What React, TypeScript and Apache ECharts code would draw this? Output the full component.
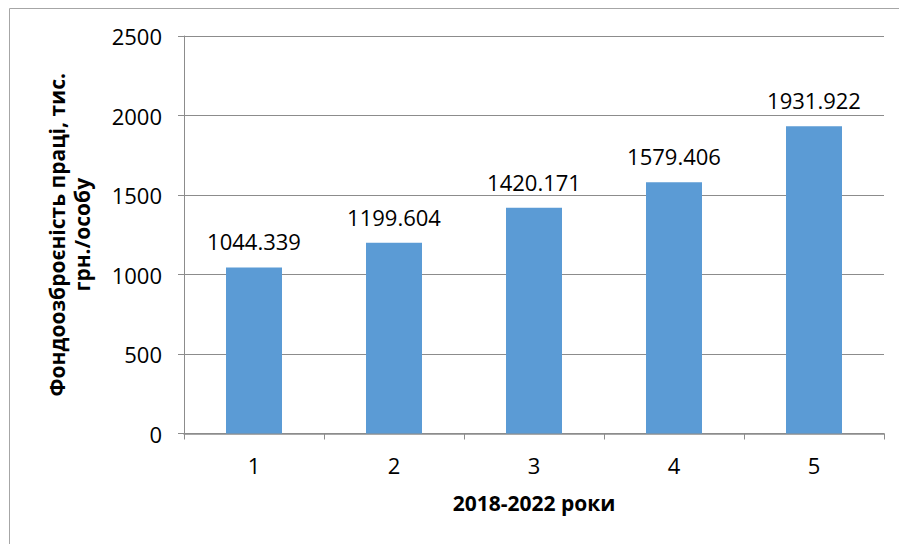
import React, { useEffect, useRef } from "react";
import * as echarts from "echarts";

const categories = ["1", "2", "3", "4", "5"];
const values = [1044.339, 1199.604, 1420.171, 1579.406, 1931.922];
const yTicks = { min: 0, max: 2500, interval: 500 };
const xTitle = "2018-2022 роки";
const yTitle = "Фондоозброєність праці, тис.\nгрн./особу";

export default function App() {
  const ref = useRef<HTMLDivElement>(null);
  useEffect(() => {
    if (!ref.current) return;
    const chart = echarts.init(ref.current, undefined, { renderer: "svg" });
    const font = "'Open Sans', 'Noto Sans', sans-serif";
    const axisGray = "#8c8c8c";
    chart.setOption({
      animation: false,
      backgroundColor: "#ffffff",
      textStyle: { fontFamily: font, color: "#000" },
      graphic: [
        {
          type: "rect",
          silent: true,
          shape: { x: 9.5, y: 8.5, width: 900, height: 545 },
          style: { fill: "none", stroke: "#a6a6a6", lineWidth: 1 },
          z: -10,
        },
        {
          type: "text",
          x: 534,
          y: 503,
          style: {
            text: xTitle,
            font: `bold 21px ${font}`,
            fill: "#000",
            textAlign: "center",
            textVerticalAlign: "middle",
          },
        },
      ],
      grid: { left: 184, right: 15, top: 36, bottom: 110.5, containLabel: false },
      xAxis: {
        type: "category",
        data: categories,
        boundaryGap: true,
        axisLine: { lineStyle: { color: axisGray, width: 1.5 } },
        axisTick: { show: true, length: 6, alignWithLabel: false, lineStyle: { color: axisGray } },
        axisLabel: { fontSize: 22, color: "#000", margin: 20, fontFamily: font },
      },
      yAxis: {
        type: "value",
        min: yTicks.min,
        max: yTicks.max,
        interval: yTicks.interval,
        name: yTitle,
        nameLocation: "middle",
        nameGap: 90,
        nameTextStyle: {
          fontSize: 21,
          fontWeight: "bold",
          color: "#000",
          lineHeight: 25,
          fontFamily: font,
        },
        axisLine: { show: true, lineStyle: { color: axisGray } },
        axisTick: { show: true, length: 6, lineStyle: { color: axisGray } },
        splitLine: { lineStyle: { color: axisGray } },
        axisLabel: {
          fontSize: 22,
          color: "#000",
          margin: 22,
          fontFamily: font,
          formatter: (v: number) => String(v),
        },
      },
      series: [
        {
          type: "bar",
          data: values,
          barWidth: "40%",
          itemStyle: { color: "#5b9bd5" },
          label: {
            show: true,
            position: "top",
            distance: 15,
            fontSize: 22,
            color: "#000",
            fontFamily: font,
            formatter: (p: any) => String(p.value),
          },
        },
      ],
    });
    return () => chart.dispose();
  }, []);
  return (
    <div
      ref={ref}
      style={{ position: "fixed", left: 0, top: 0, width: 899, height: 544 }}
    />
  );
}
